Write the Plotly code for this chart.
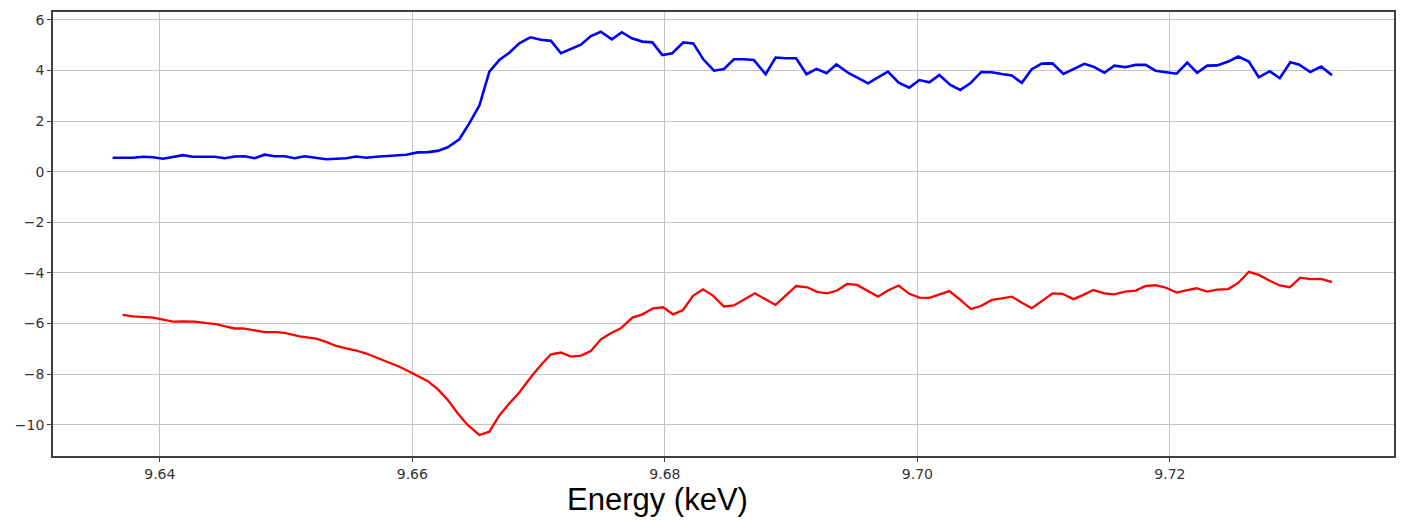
import plotly.graph_objects as go

energy_blue = [9.63626, 9.63789, 9.63868, 9.63947, 9.64026, 9.64105, 9.64184, 9.64263, 9.64342, 9.64435,
               9.64514, 9.64593, 9.64672, 9.64751, 9.64830, 9.64909, 9.64989, 9.65068, 9.65147, 9.65239,
               9.65318, 9.65397, 9.65476, 9.65556, 9.65635, 9.65714, 9.65793, 9.65872, 9.65951, 9.66043,
               9.66122, 9.66201, 9.66280, 9.66372, 9.66451, 9.66531, 9.66610, 9.66689, 9.66768, 9.66847,
               9.66934, 9.67018, 9.67098, 9.67177, 9.67256, 9.67335, 9.67414, 9.67493, 9.67580, 9.67659,
               9.67738, 9.67822, 9.67901, 9.67980, 9.68059, 9.68146, 9.68225, 9.68304, 9.68389, 9.68468,
               9.68547, 9.68626, 9.68705, 9.68798, 9.68877, 9.68956, 9.69040, 9.69122, 9.69201, 9.69280,
               9.69359, 9.69457, 9.69536, 9.69609, 9.69688, 9.69767, 9.69852, 9.69936, 9.70016, 9.70095,
               9.70174, 9.70261, 9.70340, 9.70419, 9.70506, 9.70590, 9.70669, 9.70748, 9.70827, 9.70906,
               9.70985, 9.71070, 9.71157, 9.71236, 9.71323, 9.71394, 9.71481, 9.71560, 9.71645, 9.71729,
               9.71808, 9.71887, 9.71966, 9.72053, 9.72137, 9.72216, 9.72295, 9.72374, 9.72462, 9.72541,
               9.72625, 9.72704, 9.72791, 9.72870, 9.72954, 9.73021, 9.73112, 9.73199, 9.73284]
signal_blue = [0.55, 0.55, 0.59, 0.57, 0.51, 0.58, 0.65, 0.59, 0.59, 0.59,
               0.53, 0.60, 0.61, 0.53, 0.67, 0.61, 0.61, 0.53, 0.61, 0.55,
               0.49, 0.51, 0.53, 0.60, 0.55, 0.59, 0.61, 0.65, 0.67, 0.76,
               0.77, 0.82, 0.96, 1.28, 1.91, 2.61, 3.95, 4.41, 4.70, 5.07,
               5.31, 5.21, 5.17, 4.68, 4.85, 5.02, 5.36, 5.53, 5.23, 5.51,
               5.27, 5.14, 5.11, 4.61, 4.68, 5.11, 5.07, 4.44, 3.99, 4.06,
               4.44, 4.44, 4.41, 3.85, 4.51, 4.48, 4.48, 3.85, 4.06, 3.89,
               4.24, 3.89, 3.69, 3.49, 3.73, 3.95, 3.52, 3.32, 3.62, 3.53,
               3.82, 3.43, 3.23, 3.49, 3.94, 3.93, 3.86, 3.80, 3.51, 4.05,
               4.27, 4.28, 3.86, 4.05, 4.26, 4.15, 3.91, 4.19, 4.13, 4.22,
               4.22, 3.99, 3.93, 3.87, 4.31, 3.91, 4.19, 4.20, 4.35, 4.55,
               4.35, 3.73, 3.97, 3.69, 4.32, 4.24, 3.94, 4.15, 3.81]

energy_red = [9.63705, 9.63789, 9.63947, 9.64000, 9.64105, 9.64184, 9.64277, 9.64369, 9.64448, 9.64527,
              9.64593, 9.64659, 9.64751, 9.64830, 9.64923, 9.64989, 9.65107, 9.65186, 9.65239, 9.65318,
              9.65397, 9.65476, 9.65556, 9.65635, 9.65714, 9.65793, 9.65898, 9.65990, 9.66056, 9.66122,
              9.66201, 9.66280, 9.66359, 9.66438, 9.66531, 9.66610, 9.66689, 9.66768, 9.66847, 9.66952,
              9.67031, 9.67098, 9.67177, 9.67256, 9.67335, 9.67414, 9.67493, 9.67572, 9.67651, 9.67743,
              9.67822, 9.67907, 9.67986, 9.68065, 9.68144, 9.68223, 9.68302, 9.68381, 9.68468, 9.68547,
              9.68713, 9.68877, 9.69040, 9.69127, 9.69206, 9.69285, 9.69364, 9.69443, 9.69522, 9.69601,
              9.69688, 9.69773, 9.69852, 9.69936, 9.70016, 9.70095, 9.70174, 9.70253, 9.70340, 9.70424,
              9.70503, 9.70590, 9.70669, 9.70748, 9.70827, 9.70906, 9.70991, 9.71070, 9.71149, 9.71236,
              9.71315, 9.71394, 9.71481, 9.71560, 9.71645, 9.71729, 9.71808, 9.71887, 9.71966, 9.72053,
              9.72137, 9.72211, 9.72295, 9.72374, 9.72462, 9.72541, 9.72625, 9.72704, 9.72791, 9.72870,
              9.72950, 9.73033, 9.73112, 9.73199, 9.73284]
signal_red = [-5.66, -5.72, -5.77, -5.82, -5.93, -5.92, -5.93, -5.99, -6.03, -6.13,
              -6.20, -6.20, -6.28, -6.34, -6.34, -6.37, -6.51, -6.57, -6.60, -6.73,
              -6.89, -6.99, -7.07, -7.19, -7.35, -7.51, -7.71, -7.94, -8.10, -8.28,
              -8.60, -9.02, -9.55, -10.01, -10.41, -10.28, -9.64, -9.16, -8.73, -8.04,
              -7.57, -7.22, -7.15, -7.31, -7.27, -7.09, -6.63, -6.39, -6.19, -5.77,
              -5.64, -5.40, -5.36, -5.64, -5.47, -4.91, -4.65, -4.90, -5.33, -5.29,
              -4.81, -5.27, -4.52, -4.57, -4.75, -4.81, -4.70, -4.44, -4.48, -4.70,
              -4.94, -4.68, -4.50, -4.83, -4.98, -4.99, -4.85, -4.72, -5.07, -5.43,
              -5.31, -5.07, -5.01, -4.94, -5.18, -5.40, -5.10, -4.81, -4.83, -5.04,
              -4.87, -4.68, -4.81, -4.85, -4.74, -4.70, -4.52, -4.49, -4.58, -4.78,
              -4.68, -4.61, -4.74, -4.66, -4.64, -4.40, -3.96, -4.08, -4.31, -4.50,
              -4.57, -4.19, -4.25, -4.24, -4.37]

x_ticks = [9.64, 9.66, 9.68, 9.70, 9.72]
x_tick_labels = ["9.64", "9.66", "9.68", "9.70", "9.72"]
y_ticks = [-10, -8, -6, -4, -2, 0, 2, 4, 6]
x_title = "Energy (keV)"

fig = go.Figure()
fig.add_trace(go.Scatter(x=energy_blue, y=signal_blue, mode="lines",
                         line=dict(color="#0000ff", width=2.6), showlegend=False))
fig.add_trace(go.Scatter(x=energy_red, y=signal_red, mode="lines",
                         line=dict(color="#ff0000", width=2.3), showlegend=False))

axis_common = dict(showgrid=True, gridcolor="#c4c4c4", gridwidth=1.4,
                   showline=True, linecolor="#404040", linewidth=1.6, mirror=True,
                   ticks="outside", ticklen=4, tickcolor="#404040", tickwidth=1.3,
                   zeroline=False,
                   tickfont=dict(family="DejaVu Sans", size=14, color="#333333"))

fig.update_xaxes(range=[9.63154, 9.73775], tickvals=x_ticks, ticktext=x_tick_labels, **axis_common)
fig.update_yaxes(range=[-11.24, 6.31], tickvals=y_ticks, **axis_common)

fig.add_annotation(text=x_title, xref="paper", yref="paper", x=(658 - 53) / 1343, y=-0.099,
                   xanchor="center", yanchor="middle", showarrow=False, borderpad=0,
                   font=dict(family="Liberation Sans, Arial", size=31, color="#000000"))

fig.update_layout(width=1405, height=520, margin=dict(l=53, r=9, t=12, b=64),
                  paper_bgcolor="white", plot_bgcolor="white")

fig.write_html("out.html", config={"displayModeBar": False},
               post_script="document.body.style.margin='0';document.body.style.overflow='hidden';")
